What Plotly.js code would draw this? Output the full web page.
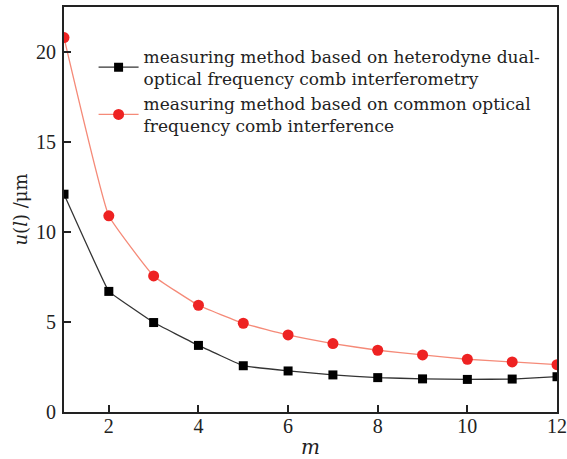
<!DOCTYPE html>
<html><head><meta charset="utf-8">
<script src="https://cdn.plot.ly/plotly-3.0.1.min.js"></script>
<style>body{margin:0;background:#fff}#chart{width:567px;height:459px}</style>
</head><body><div id="chart"></div>
<script>
const m = [1,2,3,4,5,6,7,8,9,10,11,12];
const heterodyne = [12.1,6.7,4.97,3.7,2.57,2.28,2.06,1.91,1.84,1.81,1.83,1.96];
const common = [20.8,10.9,7.56,5.93,4.93,4.28,3.8,3.43,3.17,2.93,2.78,2.63];
const name1 = "measuring method based on heterodyne dual-<br>optical frequency comb interferometry";
const name2 = "measuring method based on common optical<br>frequency comb interference";
const xticks = [2,4,6,8,10,12];
const yticks = [0,5,10,15,20];
const font = "DejaVu Serif, serif";
const tickFont = "Liberation Serif, serif";
const data = [
 {x:m, y:heterodyne, name:name1, mode:'lines+markers', line:{color:'#333333', width:1.3, shape:'spline', smoothing:0.15},
  marker:{symbol:'square', size:9, color:'#000000'}},
 {x:m, y:common, name:name2, mode:'lines+markers', line:{color:'#f58a78', width:1.3, shape:'spline', smoothing:0.3},
  marker:{symbol:'circle', size:11, color:'#ee2222'}}
];
const layout = {
 width:567, height:459, margin:{l:64, r:10, t:7, b:47},
 paper_bgcolor:'#fff', plot_bgcolor:'#fff',
 font:{family:font, color:'#222', size:17},
 showlegend:true,
 legend:{x:0.06, y:0.922, xanchor:'left', yanchor:'top', bgcolor:'rgba(0,0,0,0)', font:{size:17, family:font, color:'#222'}, tracegroupgap:0, itemwidth:40},
 xaxis:{range:[1,12], tickvals:xticks, ticks:'inside', ticklen:7, tickwidth:1.5, tickcolor:'#222', showline:true, mirror:true, linecolor:'#222', linewidth:2,
   showgrid:false, zeroline:false, tickfont:{size:20, family:tickFont, color:'#222'}, ticklabeloverflow:'allow', ticklabelstandoff:-5,
   title:{text:'<i>m</i>', font:{size:20, family:font}, standoff:8}},
 yaxis:{range:[0,22.5], tickvals:yticks, ticks:'inside', ticklen:7, tickwidth:1.5, tickcolor:'#222', showline:true, mirror:true, linecolor:'#222', linewidth:2,
   showgrid:false, zeroline:false, tickfont:{size:20, family:tickFont, color:'#222'}, ticklabeloverflow:'allow', ticklabelstandoff:2,
   title:{text:'<i>u</i>(<i>l</i>) /μm', font:{size:18, family:font}, standoff:4}}
};
Plotly.newPlot('chart', data, layout, {displayModeBar:false});
</script></body></html>
